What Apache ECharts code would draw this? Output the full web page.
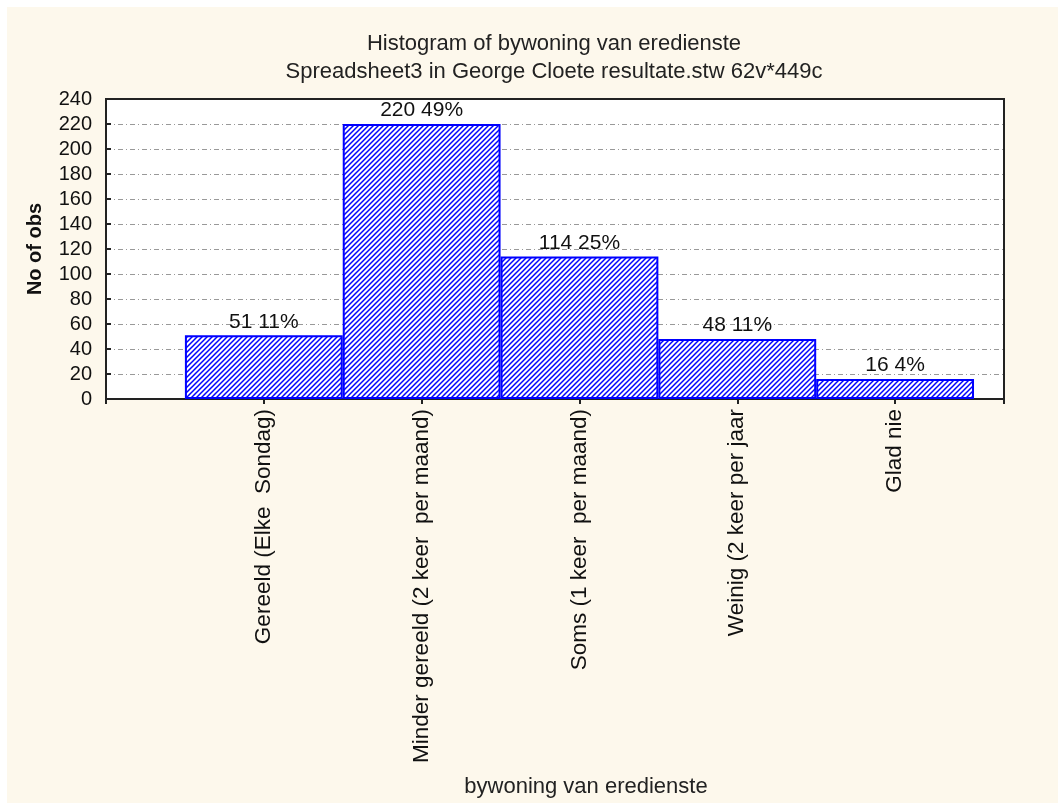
<!DOCTYPE html>
<html>
<head>
<meta charset="utf-8">
<script src="https://cdn.jsdelivr.net/npm/echarts@6/dist/echarts.min.js"></script>
<style>
html,body{margin:0;padding:0;background:#ffffff;}
#chart{position:absolute;left:7px;top:7px;width:1051px;height:796px;}
</style>
</head>
<body>
<div id="chart"></div>
<script>
const categories = ["Gereeld (Elke  Sondag)", "Minder gereeld (2 keer  per maand)", "Soms (1 keer  per maand)", "Weinig (2 keer per jaar", "Glad nie"];
const counts = [51, 220, 114, 48, 16];
const percents = ["11%", "49%", "25%", "11%", "4%"];
const yTicks = [0, 20, 40, 60, 80, 100, 120, 140, 160, 180, 200, 220, 240];

function hatch() {
  const s = 5;
  const c = document.createElement('canvas');
  c.width = s; c.height = s;
  const g = c.getContext('2d');
  g.fillStyle = '#ffffff';
  g.fillRect(0, 0, s, s);
  g.strokeStyle = '#0000ff';
  g.lineWidth = 1.5;
  g.beginPath();
  g.moveTo(0, s); g.lineTo(s, 0);
  g.moveTo(-1, 1); g.lineTo(1, -1);
  g.moveTo(s - 1, s + 1); g.lineTo(s + 1, s - 1);
  g.stroke();
  return c;
}

const chart = echarts.init(document.getElementById('chart'));
const font = 'Liberation Sans, Arial, sans-serif';
const barData = counts.map((v, i) => [i + 1, v]);

chart.setOption({
  backgroundColor: '#fdf8ec',
  animation: false,
  title: [
    { text: 'Histogram of bywoning van eredienste', left: 542, top: 21, textAlign: 'center',
      textStyle: { fontFamily: font, fontSize: 22, fontWeight: 'normal', color: '#222' } },
    { text: 'Spreadsheet3 in George Cloete resultate.stw 62v*449c', left: 542, top: 49, textAlign: 'center',
      textStyle: { fontFamily: font, fontSize: 22, fontWeight: 'normal', color: '#222' } }
  ],
  grid: { left: 99, top: 92, right: 54, bottom: 404, show: true, backgroundColor: '#ffffff', borderColor: '#222', borderWidth: 2 },
  xAxis: [{
    type: 'value', min: 0, max: 5.69, interval: 1,
    name: 'bywoning van eredienste', nameLocation: 'middle', nameGap: 377,
    nameTextStyle: { fontFamily: font, fontSize: 22, color: '#222', padding: [0, 0, 0, 62] },
    axisLine: { show: true, onZero: false, lineStyle: { color: '#222', width: 2 } },
    axisTick: { show: true, inside: true, length: 4, lineStyle: { color: '#222', width: 2 } },
    splitLine: { show: false },
    axisLabel: { rotate: 90, margin: 10, fontFamily: font, fontSize: 22.5, color: '#111', showMinLabel: false, showMaxLabel: false,
      formatter: v => (Number.isInteger(v) && v >= 1 && v <= categories.length) ? categories[v - 1] : '' }
  }, {
    type: 'value', min: 0, max: 5.69, interval: 1, position: 'top',
    axisLine: { show: true, lineStyle: { color: '#222', width: 2 } },
    axisTick: { show: true, inside: true, length: 5, lineStyle: { color: '#222', width: 2 } },
    axisLabel: { show: false }, splitLine: { show: false }
  }],
  yAxis: {
    type: 'value', min: 0, max: 240, interval: 20,
    name: 'No of obs', nameLocation: 'middle', nameGap: 61,
    nameTextStyle: { fontFamily: font, fontSize: 20, fontWeight: 'bold', color: '#111' },
    axisLine: { show: true, lineStyle: { color: '#222', width: 2 } },
    axisTick: { show: true, inside: true, length: 5, lineStyle: { color: '#222', width: 2 } },
    axisLabel: { fontFamily: font, fontSize: 20, color: '#111', margin: 14 },
    splitLine: { show: true, showMinLine: false, showMaxLine: false, lineStyle: { color: '#999', width: 1, type: [5, 3, 1, 3] } }
  },
  series: [{
    type: 'bar',
    xAxisIndex: 0,
    data: barData,
    barWidth: '100%',
    itemStyle: { color: { image: hatch(), repeat: 'repeat' }, borderColor: '#0000ff', borderWidth: 2 },
    label: { show: true, position: 'top', distance: 3, fontFamily: font, fontSize: 21, color: '#111',
      formatter: p => p.value[1] + ' ' + percents[p.dataIndex] }
  }]
});
</script>
</body>
</html>
